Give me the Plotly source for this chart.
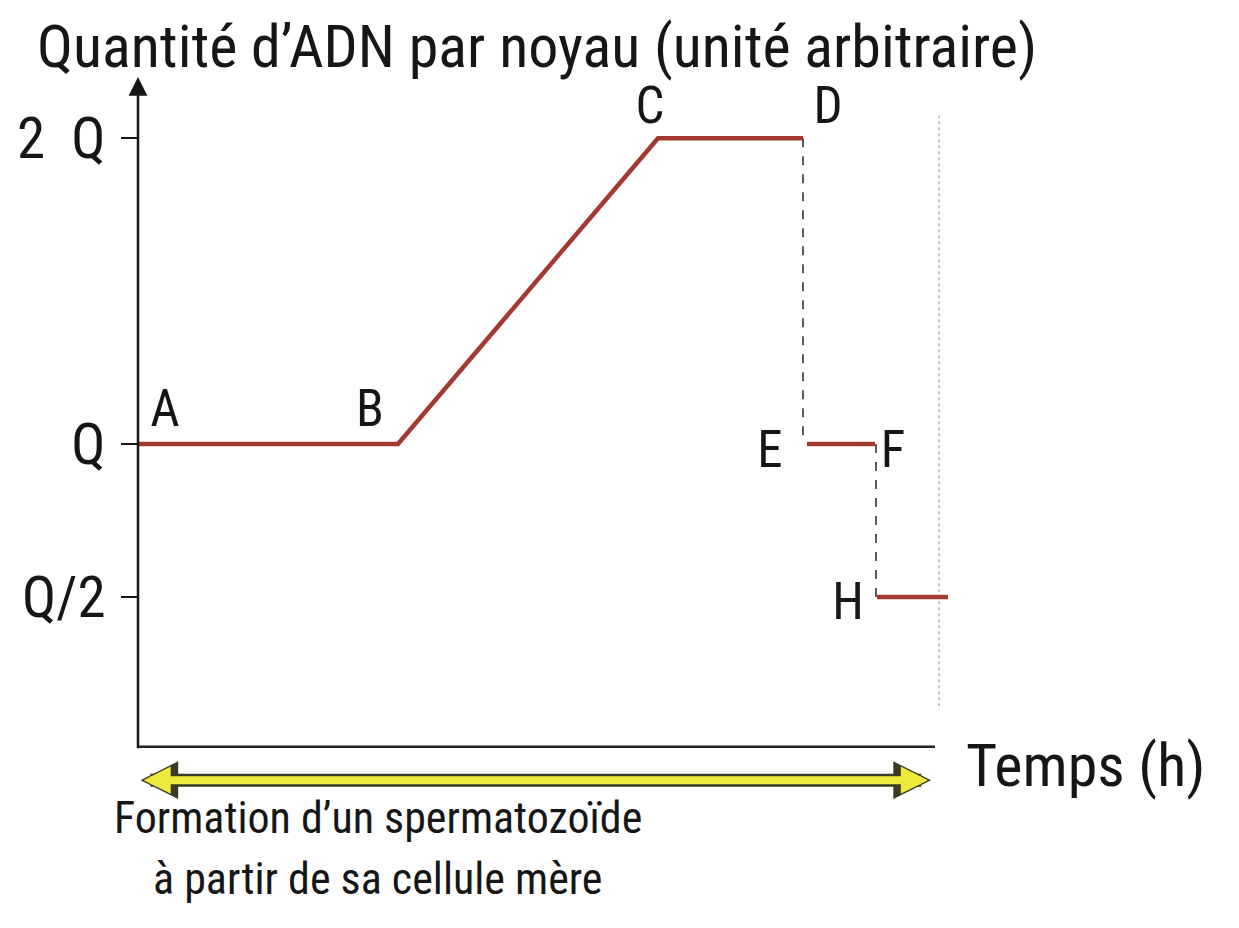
import plotly.graph_objects as go

# --- data (time in arbitrary units, DNA quantity in units of Q) ---
phase1_t = [0, 2.6, 5.2, 6.65]        # A, B, C, D
phase1_q = [1, 1, 2, 2]
phase2_t = [6.69, 7.37]               # E, F
phase2_q = [1, 1]
phase3_t = [7.39, 8.1]                # H, end
phase3_q = [0.5, 0.5]
drop1_t = [6.65, 6.65]                # D -> E
drop1_q = [2, 1]
drop2_t = [7.38, 7.38]                # F -> H
drop2_q = [1, 0.5]
end_t = [8.01, 8.01]                  # end of formation marker
end_q = [2.075, 0.13]

tick_vals = [0.5, 1, 2]
tick_text = ["Q/2", "Q", "2\u00a0\u00a0Q"]

point_labels = ["A", "B", "C", "D", "E", "F", "H"]
label_t = [0.27, 2.32, 5.12, 6.9, 6.32, 7.55, 7.1]
label_q = [1.10, 1.10, 2.09, 2.09, 0.967, 0.967, 0.47]

title_text = "Quantité d’ADN par noyau (unité arbitraire)"
xlabel_text = "Temps (h)"
caption_lines = ["Formation d’un spermatozoïde", "à partir de sa cellule mère"]

FONT = "Roboto Condensed, Liberation Sans Narrow, DejaVu Sans Condensed, Arial Narrow, Roboto, sans-serif"
RED = "#a23a30"
INK = "#161616"

fig = go.Figure()

for t, q in [(drop1_t, drop1_q), (drop2_t, drop2_q)]:
    fig.add_trace(go.Scatter(x=t, y=q, mode="lines",
                             line=dict(color="#333333", width=1.6, dash="dash"),
                             hoverinfo="skip", showlegend=False))
fig.add_trace(go.Scatter(x=end_t, y=end_q, mode="lines",
                         line=dict(color="#aaaaaa", width=1.3, dash="dot"),
                         hoverinfo="skip", showlegend=False))
for t, q in [(phase1_t, phase1_q), (phase2_t, phase2_q), (phase3_t, phase3_q)]:
    fig.add_trace(go.Scatter(x=t, y=q, mode="lines",
                             line=dict(color=RED, width=4.5),
                             showlegend=False))

fig.add_trace(go.Scatter(x=label_t, y=label_q, mode="text", text=point_labels,
                         textfont=dict(family=FONT, size=51, color=INK),
                         hoverinfo="skip", showlegend=False))

# x axis line
fig.add_shape(type="line", xref="x", yref="y", x0=0, x1=7.97, y0=0.01, y1=0.01,
              line=dict(color="#222222", width=2.5))
# y axis with arrow
fig.add_annotation(x=0, y=2.2, ax=0, ay=0.0, xref="x", yref="y", axref="x", ayref="y",
                   text="", showarrow=True, arrowhead=2, arrowsize=1.5, arrowwidth=2.5,
                   arrowcolor=INK)

# yellow double arrow (dark outline + yellow fill)
fig.add_annotation(x=7.93, y=-0.031, ax=0.01, ay=0, xref="x", yref="paper", axref="x", ayref="pixel",
                   text="", showarrow=True, arrowhead=2, arrowside="end+start", arrowsize=0.58,
                   arrowwidth=13, arrowcolor="#3a3a25")
fig.add_annotation(x=7.9, y=-0.031, ax=0.04, ay=0, xref="x", yref="paper", axref="x", ayref="pixel",
                   text="", showarrow=True, arrowhead=2, arrowside="end+start", arrowsize=0.68,
                   arrowwidth=8, arrowcolor="#eeea3c")

fig.add_annotation(x=-0.124, y=1.045, xref="paper", yref="paper", xanchor="left", yanchor="middle",
                   text=title_text, showarrow=False,
                   font=dict(family=FONT, size=60, color=INK))
fig.add_annotation(x=0.995, y=-0.0088, xref="paper", yref="paper", xanchor="left", yanchor="middle",
                   text=xlabel_text, showarrow=False,
                   font=dict(family=FONT, size=60, color=INK))
fig.add_annotation(x=0.289, y=-0.087, xref="paper", yref="paper", xanchor="center", yanchor="middle",
                   text=caption_lines[0], showarrow=False,
                   font=dict(family=FONT, size=44, color=INK))
fig.add_annotation(x=0.289, y=-0.176, xref="paper", yref="paper", xanchor="center", yanchor="middle",
                   text=caption_lines[1], showarrow=False,
                   font=dict(family=FONT, size=44, color=INK))

fig.update_layout(
    width=1239, height=928,
    margin=dict(l=130, r=279, t=69, b=177, autoexpand=False),
    paper_bgcolor="white", plot_bgcolor="white",
    xaxis=dict(range=[0, 8.3], visible=False, showgrid=False, zeroline=False, automargin=False),
    yaxis=dict(range=[-0.03, 2.2], showgrid=False, zeroline=False, showline=False, automargin=False,
               tickvals=tick_vals, ticktext=tick_text, ticks="outside", ticklen=16,
               tickwidth=2, tickcolor=INK, ticklabelstandoff=4,
               tickfont=dict(family=FONT, size=57, color=INK)),
)

fig.write_html("out.html")
